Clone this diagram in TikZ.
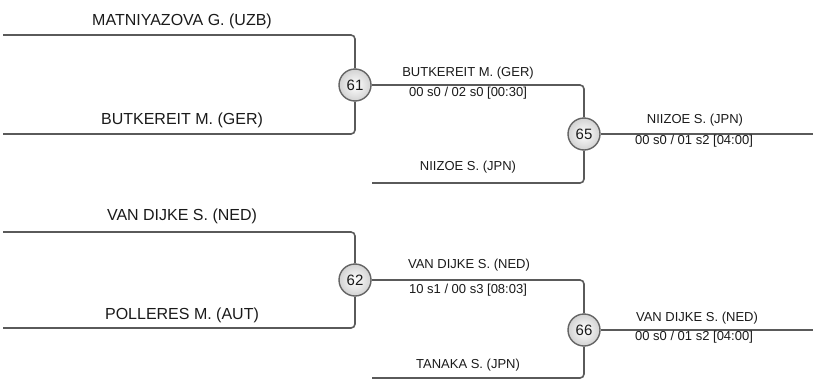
\documentclass[tikz,border=0pt]{standalone}
\usepackage{fontspec}
\setmainfont{Liberation Sans}
\usepackage{xcolor}
\usetikzlibrary{positioning}
\definecolor{brLine}{HTML}{5A5A5A}
\definecolor{brRing}{HTML}{646464}
\definecolor{brFill}{HTML}{D2D2D2}
\definecolor{brText}{HTML}{1A1A1A}
\tikzset{
  bracket/.style={
    draw=brLine, line width=1.6pt,
    rounded corners=4pt
  },
  matchball/.style={
    circle, draw=brRing, line width=1.4pt,
    inner sep=0pt, minimum size=32pt,
    shading=radial, inner color=white, outer color=brFill,
    font=\fontsize{15}{17}\selectfont, text=brText
  },
  entrant/.style={inner sep=0pt, font=\fontsize{16}{18}\selectfont, text=brText},
  result/.style={inner sep=0pt, font=\fontsize{13}{15}\selectfont, text=brText}
}

\begin{document}
\begin{tikzpicture}[x=1pt, y=-1pt]
        \useasboundingbox (0,0) rectangle (813,383);
        % match circles
        \node[matchball] (m61) at (355, 85) {61};
        \node[matchball] (m62) at (355, 280) {62};
        \node[matchball] (m65) at (584, 134) {65};
        \node[matchball] (m66) at (584, 330) {66};
        % free line ends
        \coordinate (a61) at (3, 35);
        \coordinate (b61) at (3, 134);
        \coordinate (a62) at (3, 232);
        \coordinate (b62) at (3, 328);
        \coordinate (b65) at (372, 183);
        \coordinate (b66) at (372, 378);
        \coordinate (o65) at (813, 134);
        \coordinate (o66) at (813, 330);
        % bracket lines
        \draw[bracket] (a61) -| (m61);
        \draw[bracket] (b61) -| (m61);
        \draw[bracket] (a62) -| (m62);
        \draw[bracket] (b62) -| (m62);
        \draw[bracket] (m61) -| (m65);
        \draw[bracket] (b65) -| (m65);
        \draw[bracket] (m62) -| (m66);
        \draw[bracket] (b66) -| (m66);
        \draw[bracket] (m65) -- (o65);
        \draw[bracket] (m66) -- (o66);
        % first round
        \node[entrant] (n61a) at (182, 21) {MATNIYAZOVA G. (UZB)};
        \node[entrant] (n61b) at (182, 120) {BUTKEREIT M. (GER)};
        \node[entrant] (n62a) at (182, 216) {VAN DIJKE S. (NED)};
        \node[entrant] (n62b) at (182, 315) {POLLERES M. (AUT)};
        % second round
        \node[result] (n65a) at (468, 73) {BUTKEREIT M. (GER)};
        \node[result] (s61) at (468, 93) {00 s0 / 02 s0 [00:30]};
        \node[result] (n65b) at (468, 167) {NIIZOE S. (JPN)};
        \node[result] (n66a) at (469, 265) {VAN DIJKE S. (NED)};
        \node[result] (s62) at (468, 290) {10 s1 / 00 s3 [08:03]};
        \node[result] (n66b) at (468, 365) {TANAKA S. (JPN)};
        % winners
        \node[result] (w65) at (695, 120) {NIIZOE S. (JPN)};
        \node[result] (s65) at (694, 141) {00 s0 / 01 s2 [04:00]};
        \node[result] (w66) at (697, 318) {VAN DIJKE S. (NED)};
        \node[result] (s66) at (694, 337) {00 s0 / 01 s2 [04:00]};
      \end{tikzpicture}
\end{document}
